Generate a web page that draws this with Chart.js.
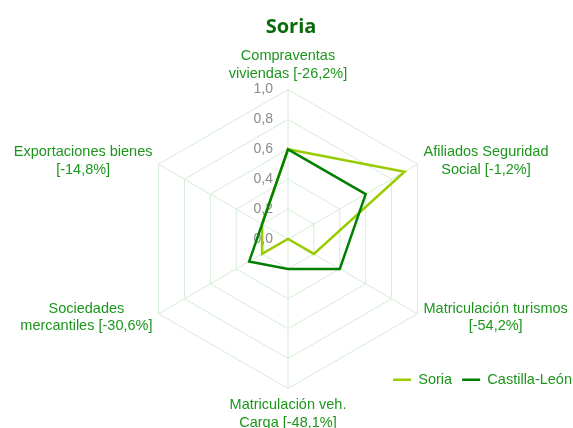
<!DOCTYPE html>
<html>
<head>
<meta charset="utf-8">
<script src="https://cdn.jsdelivr.net/npm/chart.js@4.4.1/dist/chart.umd.min.js"></script>
<style>
  html, body { margin: 0; padding: 0; background: #ffffff; }
  #wrap { width: 573px; height: 428px; }
</style>
</head>
<body>
<div id="wrap"><canvas id="radar" width="573" height="428"></canvas></div>
<script>
// Axis labels, two lines each like the original
const categories = [
  ["Compraventas", "viviendas [-26,2%]"],
  ["Afiliados Seguridad", "Social [-1,2%]"],
  ["Matriculación turismos", "[-54,2%]"],
  ["Matriculación veh.", "Carga [-48,1%]"],
  ["Sociedades", "mercantiles [-30,6%]"],
  ["Exportaciones bienes", "[-14,8%]"],
];
const soriaValues = [0.6, 0.9, 0.2, 0.0, 0.2, 0.2];
const castillaLeonValues = [0.6, 0.6, 0.4, 0.2, 0.3, 0.2];
const tickValues = [0, 0.2, 0.4, 0.6, 0.8, 1.0];

// Colors
const soriaColor = "#99cc00";
const castillaColor = "#008000";
const labelColor = "#1c961c";
const titleColor = "#0b6b0b";
const gridColor = "#d6ebd6";
const tickColor = "#8a8a8a";

const labelFont = "14.5px 'Liberation Sans', Arial, sans-serif";

// Draws the tick values (left of the vertical axis) and the point labels
const radarText = {
  id: "radarText",
  beforeDatasetsDraw(chart) {
    const scale = chart.scales.r;
    const ctx = chart.ctx;
    ctx.save();
    ctx.font = "14px 'Liberation Sans', Arial, sans-serif";
    ctx.fillStyle = tickColor;
    ctx.textAlign = "right";
    ctx.textBaseline = "middle";
    scale.ticks.forEach((t) => {
      const d = scale.getDistanceFromCenterForValue(t.value);
      ctx.fillText(t.value.toFixed(1).replace(".", ","), scale.xCenter - 15, scale.yCenter - d);
    });
    ctx.restore();
  },
  afterDraw(chart) {
    const scale = chart.scales.r;
    const ctx = chart.ctx;
    const lineHeight = 17.5;
    ctx.save();
    ctx.font = labelFont;
    ctx.fillStyle = labelColor;
    ctx.textAlign = "center";
    ctx.textBaseline = "middle";
    chart.data.labels.forEach((lines, i) => {
      const p = scale.getPointPosition(i, scale.drawingArea + 7);
      const blockW = Math.max(...lines.map((l) => ctx.measureText(l).width));
      const blockH = lines.length * lineHeight;
      const dx = p.x - scale.xCenter;
      const dy = p.y - scale.yCenter;
      let cx = p.x;
      let top;
      if (Math.abs(dx) < 1) {
        top = dy < 0 ? p.y - blockH : p.y + 1;
      } else {
        cx = dx > 0 ? p.x + blockW / 2 : p.x - blockW / 2;
        top = p.y - blockH / 2;
      }
      lines.forEach((l, k) => ctx.fillText(l, cx, top + lineHeight * (k + 0.5)));
    });
    ctx.restore();
  },
};

new Chart(document.getElementById("radar"), {
  type: "radar",
  data: {
    labels: categories,
    datasets: [
      {
        label: "Soria",
        data: soriaValues,
        borderColor: soriaColor,
        backgroundColor: soriaColor,
        borderWidth: 2.5,
        pointRadius: 0,
        fill: false,
        order: 1,
      },
      {
        label: "Castilla-León",
        data: castillaLeonValues,
        borderColor: castillaColor,
        backgroundColor: castillaColor,
        borderWidth: 2.5,
        pointRadius: 0,
        fill: false,
        order: 0, // drawn on top, as in the original
      },
    ],
  },
  options: {
    responsive: false,
    animation: false,
    layout: { padding: { top: 0, right: -9, bottom: 31, left: 0 } },
    scales: {
      r: {
        min: 0,
        max: 1,
        ticks: { display: false, stepSize: 0.2 },
        grid: { color: gridColor, lineWidth: 1 },
        angleLines: { color: gridColor, lineWidth: 1 },
        pointLabels: { display: false },
        afterBuildTicks(scale) {
          scale.ticks = tickValues.map((v) => ({ value: v }));
        },
        afterFit(scale) {
          // place the web like in the original picture
          scale.xCenter = 288;
          scale.yCenter = 239;
          scale.drawingArea = 149.5;
        },
      },
    },
    plugins: {
      title: {
        display: true,
        text: "Soria",
        color: titleColor,
        font: { family: "'Open Sans', sans-serif", size: 20, weight: "bold" },
        padding: { top: 15, bottom: 0 },
      },
      legend: {
        position: "bottom",
        align: "end",
        labels: {
          color: labelColor,
          font: { family: "'Liberation Sans', Arial, sans-serif", size: 14.5 },
          usePointStyle: true,
          pointStyle: "line",
          pointStyleWidth: 18,
          padding: 10,
          sort: (a, b) => a.datasetIndex - b.datasetIndex,
        },
      },
      tooltip: { enabled: false },
    },
  },
  plugins: [radarText],
});
</script>
</body>
</html>
